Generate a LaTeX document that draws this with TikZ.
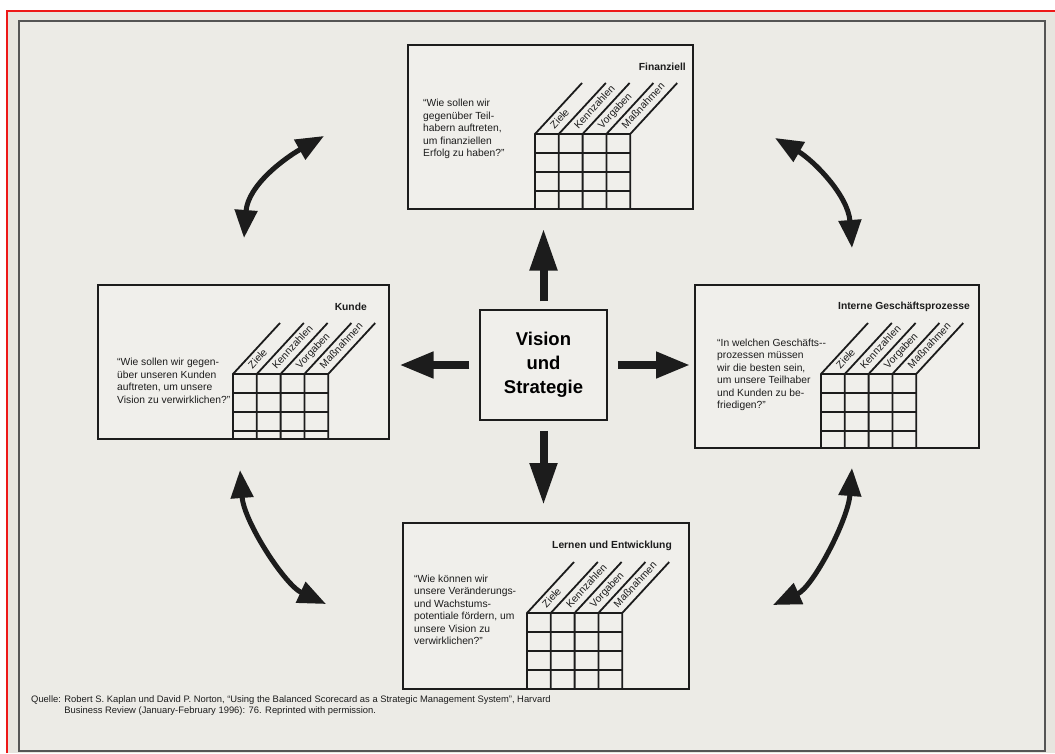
\documentclass[tikz,border=0pt]{standalone}
\usepackage{fontspec}
\newfontfamily\arialf{Liberation Sans}
\usetikzlibrary{arrows.meta}
\definecolor{paperout}{RGB}{231,229,223}
\definecolor{paperin}{RGB}{236,235,230}
\definecolor{boxfill}{RGB}{240,239,235}
\definecolor{ink}{RGB}{28,28,28}
\definecolor{framec}{RGB}{85,85,85}
\definecolor{redline}{RGB}{238,24,24}

\tikzset{
  cardbox/.style={draw=ink, line width=1.5pt, fill=boxfill, inner sep=0pt, anchor=north west},
  centerbox/.style={draw=ink, line width=1.5pt, fill=boxfill, minimum width=127pt, minimum height=110pt,
     align=center, font=\arialf\fontsize{18.5}{24}\selectfont\bfseries, inner sep=0pt},
  tabline/.style={draw=ink, line width=1.8pt},
  collab/.style={rotate=47.3, anchor=base west, inner sep=0pt, font=\arialf\fontsize{10.3}{11}\selectfont, text=ink},
  cardtitle/.style={anchor=east, inner sep=0pt, font=\arialf\fontsize{10.3}{12}\selectfont\bfseries, text=ink},
  question/.style={anchor=west, align=left, inner sep=0pt, font=\arialf\fontsize{10.3}{12.5}\selectfont, text=ink},
  bigarrow/.style={draw=ink, line width=8pt, -{Triangle[length=42pt,width=26pt]}},
  sidearrow/.style={draw=ink, line width=7.5pt, -{Triangle[length=34pt,width=25pt]}},
  curvearrow/.style={draw=ink, line width=5pt, {Triangle[length=28pt,width=22pt]}-{Triangle[length=28pt,width=22pt]}},
  caption/.style={anchor=north west, inner sep=0pt, font=\arialf\fontsize{9.4}{11}\selectfont, text=ink, align=left}
}

\newcommand\cardtab[3]{%
  \foreach \k in {0,...,4} {
    \draw[tabline] ({#1+23.8*\k},#3) -- ({#1+23.8*\k},#2) -- ++(47,-51);
  }
  \foreach \r in {0,...,3} {
    \draw[tabline] (#1,{#2+19*\r}) -- ({#1+95.2},{#2+19*\r});
  }
  \foreach \k/\lbl in {0/Ziele,1/Kennzahlen,2/Vorgaben,3/Maßnahmen} {
    \node[collab] at ({#1+23.8*(\k+1)-4.2},{#2-4.6}) {\lbl};
  }
}

\begin{document}
\begin{tikzpicture}[x=1pt,y=-1pt]
\useasboundingbox (0,0) rectangle (1055,753);
\fill[white] (0,0) rectangle (1055,753);
\fill[paperout] (7,11) rectangle (1055,753);
\draw[redline, line width=2pt] (7,753) -- (7,11) -- (1055,11);
\draw[framec, line width=1.5pt, fill=paperin] (19,21) rectangle (1045,751);

% boxes
\node[cardbox, minimum width=285pt, minimum height=164pt] (fin) at (407,44) {};
\node[cardbox, minimum width=291pt, minimum height=154pt] (kun) at (97,284) {};
\node[cardbox, minimum width=284pt, minimum height=163pt] (int) at (694,284) {};
\node[cardbox, minimum width=286pt, minimum height=166pt] (lern) at (402,522) {};
\node[centerbox] (vis) at (543.5,365) {Vision\\und\\Strategie};

% tables
\cardtab{535}{134}{208}
\cardtab{233}{374}{438}
\cardtab{821}{374}{447}
\cardtab{527}{613}{688}

% titles
\node[cardtitle] (tfin) at (686,67) {Finanziell};
\node[cardtitle] (tkun) at (367,307) {Kunde};
\node[cardtitle] (tint) at (970,307) {Interne Geschäftsprozesse};
\node[cardtitle] (tlern) at (672,546) {Lernen und Entwicklung};

% questions
\node[question] (qfin) at (423,129) {“Wie sollen wir\\gegenüber Teil-\\habern auftreten,\\um finanziellen\\Erfolg zu haben?”};
\node[question] (qkun) at (117,381) {“Wie sollen wir gegen-\\über unseren Kunden\\auftreten, um unsere\\Vision zu verwirklichen?”};
\node[question] (qint) at (717,375) {“In welchen Geschäfts--\\prozessen müssen\\wir die besten sein,\\um unsere Teilhaber\\und Kunden zu be-\\friedigen?”};
\node[question] (qlern) at (414,610) {“Wie können wir\\unsere Veränderungs-\\und Wachstums-\\potentiale fördern, um\\unsere Vision zu\\verwirklichen?”};

% straight arrows from the centre
\draw[bigarrow, shorten <=8pt, shorten >=19pt] (vis.north) -- (vis.north |- fin.south);
\draw[bigarrow, shorten <=10pt, shorten >=17pt] (vis.south) -- (vis.south |- lern.north);
\draw[sidearrow, shorten <=10pt, shorten >=10pt] (vis.west) -- (vis.west -| kun.east);
\draw[sidearrow, shorten <=10pt, shorten >=4pt] (vis.east) -- (vis.east -| int.west);

% curved double arrows
\coordinate (tla) at (244,238);
\coordinate (tlb) at (324,136);
\coordinate (tra) at (775,138);
\coordinate (trb) at (852,248);
\coordinate (bla) at (240,470);
\coordinate (blb) at (326,604);
\coordinate (bra) at (852,468);
\coordinate (brb) at (773,605);
\draw[curvearrow] (tla) .. controls (248,185) and (285,158) .. (tlb);
\draw[curvearrow] (tra) .. controls (813,160) and (848,195) .. (trb);
\draw[curvearrow] (bla) .. controls (244,522) and (285,585) .. (blb);
\draw[curvearrow] (bra) .. controls (848,520) and (813,587) .. (brb);

% source
\node[caption] (src) at (31,695) {\begin{tabular}{@{}l@{ }l@{}}Quelle: & Robert S. Kaplan und David P. Norton, “Using the Balanced Scorecard as a Strategic Management System”, Harvard\\ & Business Review (January-February 1996): 76. Reprinted with permission.\end{tabular}};
\end{tikzpicture}
\end{document}
